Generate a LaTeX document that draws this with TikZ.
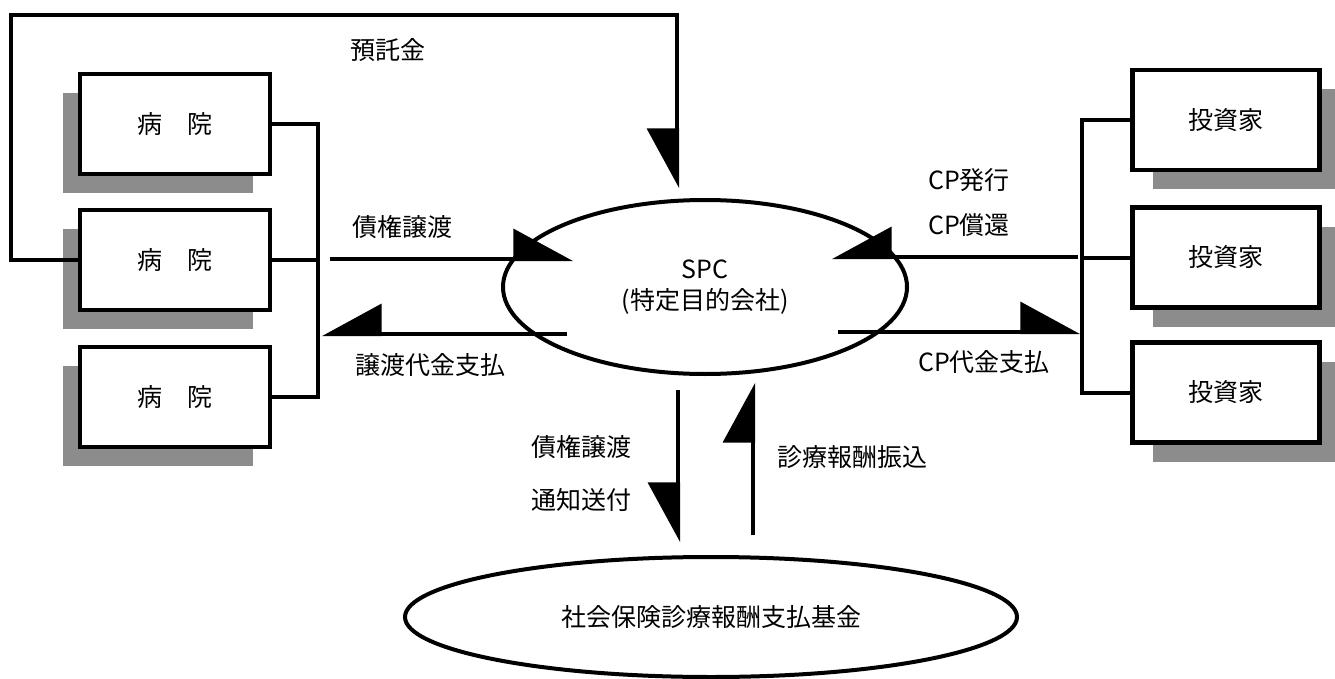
\documentclass[tikz,border=0pt]{standalone}
\usepackage{fontspec}
\setmainfont{Noto Sans CJK JP}
\usetikzlibrary{arrows.meta,shapes.geometric,shadows}
\begin{document}
\begin{tikzpicture}[x=1pt,y=-1pt,
  txt/.style={font=\fontsize{25}{31}\selectfont},
  box/.style={draw,line width=4.5pt,fill=white,minimum height=100pt,inner sep=0pt,txt},
  hbox/.style={box,minimum width=190pt},
  ibox/.style={box,minimum width=187pt},
  lshadow/.style={drop shadow={shadow xshift=-17pt,shadow yshift=-19pt,fill=black!45,opacity=1}},
  rshadow/.style={drop shadow={shadow xshift=20pt,shadow yshift=-19pt,fill=black!45,opacity=1}},
  wire/.style={line width=4pt},
  oval/.style={ellipse,draw,line width=4pt,inner sep=0pt,fill=white,txt},
  lbl/.style={inner sep=0pt,txt},
  harp/.style={wire,-{Triangle[harpoon,length=56pt,width=60pt]}},
  harpsw/.style={wire,-{Triangle[harpoon,swap,length=56pt,width=60pt]}},
]
\useasboundingbox (0,0) rectangle (1335,679);
\fill[white] (0,0) rectangle (1335,679);

% hospitals
\node[hbox,lshadow] (h1) at (175,124) {病　院};
\node[hbox,lshadow] (h2) at (175,260) {病　院};
\node[hbox,lshadow] (h3) at (175,397) {病　院};

% investors
\node[ibox,rshadow] (i1) at (1226,120) {投資家};
\node[ibox,rshadow] (i2) at (1226,257.5) {投資家};
\node[ibox,rshadow] (i3) at (1226,392.5) {投資家};

% SPC and fund
\node[oval,minimum width=404pt,minimum height=174pt,align=center] (spc) at (705,287) {SPC\\(特定目的会社)};
\node[oval,minimum width=612pt,minimum height=120pt] (fund) at (711,617) {社会保険診療報酬支払基金};

% brackets
\coordinate (lb1) at (318,124);
\coordinate (lb3) at (318,397);
\draw[wire] (h1.east) -- (lb1) -- (lb3) -- (h3.east);
\draw[wire] (h2.east) -- (lb1 |- h2.east);
\coordinate (rb1) at (1082,120);
\coordinate (rb3) at (1082,392.5);
\draw[wire] (i1.west) -- (rb1) -- (rb3) -- (i3.west);
\draw[wire] (i2.west) -- (rb1 |- i2.west);

% deposit loop
\coordinate (loopL) at (11,15);
\coordinate (depTip) at (677,188);
\draw[harpsw] (h2.west) -| (loopL) -| (depTip);

% horizontal arrows
\coordinate (a1s) at (330,259);
\coordinate (a1e) at (573,259);
\draw[harp] (a1s) -- (a1e);
\coordinate (a2s) at (567,334);
\coordinate (a2e) at (322,334);
\draw[harpsw] (a2s) -- (a2e);
\coordinate (a3s) at (1078,257);
\coordinate (a3e) at (832,257);
\draw[harpsw] (a3s) -- (a3e);
\coordinate (a4s) at (838,332);
\coordinate (a4e) at (1080,332);
\draw[harp] (a4s) -- (a4e);

% vertical arrows
\coordinate (a5s) at (678,390);
\coordinate (a5e) at (678,542);
\draw[harpsw] (a5s) -- (a5e);
\coordinate (a6s) at (753,535);
\coordinate (a6e) at (753,383);
\draw[harp] (a6s) -- (a6e);

% labels
\node[lbl] (t1) at (388,50) {預託金};
\node[lbl] (t2) at (402,227) {債権譲渡};
\node[lbl] (t3) at (430,365) {譲渡代金支払};
\node[lbl,anchor=west] (t4) at (928,180) {CP発行};
\node[lbl,anchor=west] (t5) at (928,225) {CP償還};
\node[lbl] (t6) at (984,362) {CP代金支払};
\node[lbl,anchor=west] (t7) at (531,447) {債権譲渡};
\node[lbl,anchor=west] (t8) at (531,500) {通知送付};
\node[lbl,anchor=west] (t9) at (777,457) {診療報酬振込};
\end{tikzpicture}
\end{document}
